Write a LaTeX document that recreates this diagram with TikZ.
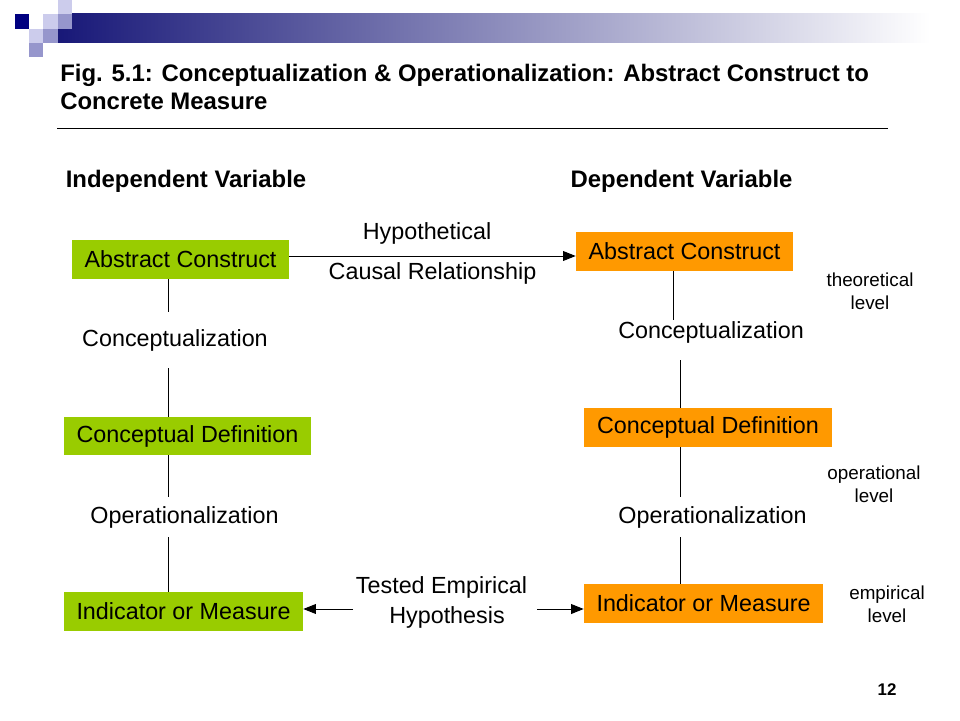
\documentclass[tikz,border=0pt]{standalone}
\usepackage{fontspec}
\setmainfont{Liberation Sans}
\usetikzlibrary{arrows.meta}
\definecolor{barnavy}{RGB}{24,24,120}
\definecolor{sqnavy}{RGB}{0,0,128}
\definecolor{sqlight}{RGB}{204,204,236}
\definecolor{sqmid}{RGB}{150,150,204}
\definecolor{ivgreen}{RGB}{153,204,0}
\definecolor{dvorange}{RGB}{255,153,0}
\tikzset{
  greenbox/.style={fill=ivgreen, minimum height=0.975cm, inner sep=0pt, font=\fontsize{16.6}{20}\selectfont},
  orangebox/.style={fill=dvorange, minimum height=0.975cm, inner sep=0pt, font=\fontsize{16.6}{20}\selectfont},
  steplabel/.style={inner sep=0pt, font=\fontsize{16.6}{20}\selectfont},
  levellabel/.style={inner sep=0pt, align=center, font=\fontsize{13.4}{16.4}\selectfont},
  heading/.style={inner sep=0pt, font=\fontsize{17}{20}\selectfont\bfseries},
  conn/.style={line width=0.7pt},
  arr/.style={line width=0.7pt, -{Triangle[length=9pt,width=7pt]}}
}

\begin{document}
\begin{tikzpicture}
			%%%%% START %%%%%
			\useasboundingbox (0, 0) rectangle (24, 18);
			
			% header bar and squares
			\shade[left color=barnavy, right color=white] (1.45, 17.65) rectangle (23.25, 16.925);
			\fill[sqlight] (1.45, 18) rectangle (1.8, 17.65);
			\fill[sqnavy] (0.375, 17.65) rectangle (0.725, 17.275);
			\fill[sqlight] (1.075, 17.65) rectangle (1.45, 17.275);
			\fill[sqmid] (1.45, 17.65) rectangle (1.8, 17.275);
			\fill[sqlight] (0.725, 17.275) rectangle (1.075, 16.925);
			\fill[sqmid] (1.075, 17.275) rectangle (1.45, 16.925);
			\fill[sqmid] (0.725, 16.925) rectangle (1.075, 16.575);
			
			% title
			\node[heading, anchor=base west] (title1) at (1.5, 15.963) {Fig. 5.1: Conceptualization \& Operationalization: Abstract Construct to};
			\node[heading, anchor=base west] (title2) at (1.5, 15.263) {Concrete Measure};
			\draw[line width=0.7pt] (1.425, 14.8) -- (22.2, 14.8);
			
			\node[heading] (indep) at (4.65, 13.475) {Independent Variable};
			\node[heading] (dep) at (17.038, 13.475) {Dependent Variable};
			
			% independent variable column
			\node[greenbox, minimum width=5.425cm] (absL) at (4.513, 11.513) {Abstract Construct};
			\node[greenbox, minimum width=6.175cm, minimum height=0.95cm] (cdefL) at (4.688, 7.1) {Conceptual Definition};
			\node[greenbox, minimum width=5.975cm] (indL) at (4.588, 2.713) {Indicator or Measure};
			\node[steplabel] (conL) at (4.375, 9.5) {Conceptualization};
			\node[steplabel] (opL) at (4.613, 5.075) {Operationalization};
			
			% dependent variable column
			\node[orangebox, minimum width=5.425cm] (absR) at (17.113, 11.713) {Abstract Construct};
			\node[orangebox, minimum width=6.2cm] (cdefR) at (17.7, 7.313) {Conceptual Definition};
			\node[orangebox, minimum width=5.975cm] (indR) at (17.588, 2.913) {Indicator or Measure};
			\node[steplabel] (conR) at (17.775, 9.7) {Conceptualization};
			\node[steplabel] (opR) at (17.813, 5.075) {Operationalization};
			
			% levels
			\node[levellabel] (theo) at (21.75, 10.713) {theoretical\\level};
			\node[levellabel] (oper) at (21.85, 5.9) {operational\\level};
			\node[levellabel] (emp) at (22.175, 2.9) {empirical\\level};
			
			% middle labels
			\node[steplabel] (hyp1) at (10.675, 12.175) {Hypothetical};
			\node[steplabel] (hyp2) at (10.813, 11.175) {Causal Relationship};
			\node[steplabel] (test1) at (11.038, 3.325) {Tested Empirical};
			\node[steplabel] (test2) at (11.175, 2.575) {Hypothesis};
			
			% line ends
			\coordinate (colL) at (4.2, 0);
			\coordinate (l1) at (4.2, 10.2);
			\coordinate (l2) at (4.2, 8.8);
			\coordinate (l3) at (4.2, 5.575);
			\coordinate (l4) at (4.2, 4.575);
			\coordinate (r1) at (16.825, 10.0);
			\coordinate (r2) at (17.0, 9.0);
			\coordinate (r3) at (17.02, 5.575);
			\coordinate (r4) at (17.02, 4.575);
			\coordinate (top) at (10, 11.6);
			\coordinate (tL) at (8.825, 2.775);
			\coordinate (tR) at (13.425, 2.775);
			
			\draw[conn] (absL.south -| l1) -- (l1);
			\draw[conn] (l2) -- (cdefL.north -| l2);
			\draw[conn] (cdefL.south -| l3) -- (l3);
			\draw[conn] (l4) -- (indL.north -| l4);
			
			\draw[conn] (absR.south -| r1) -- (r1);
			\draw[conn] (r2) -- (cdefR.north -| r2);
			\draw[conn] (cdefR.south -| r3) -- (r3);
			\draw[conn] (r4) -- (indR.north -| r4);
			
			\draw[arr] (absL.east |- top) -- (absR.west |- top);
			\draw[arr] (tL) -- (indL.east |- tL);
			\draw[arr] (tR) -- (indR.west |- tR);
			
			\node[inner sep=0pt, font=\fontsize{12}{14}\selectfont\bfseries] (page) at (22.175, 0.75) {12};
			
			%%%%% END %%%%%
\end{tikzpicture}
\end{document}
